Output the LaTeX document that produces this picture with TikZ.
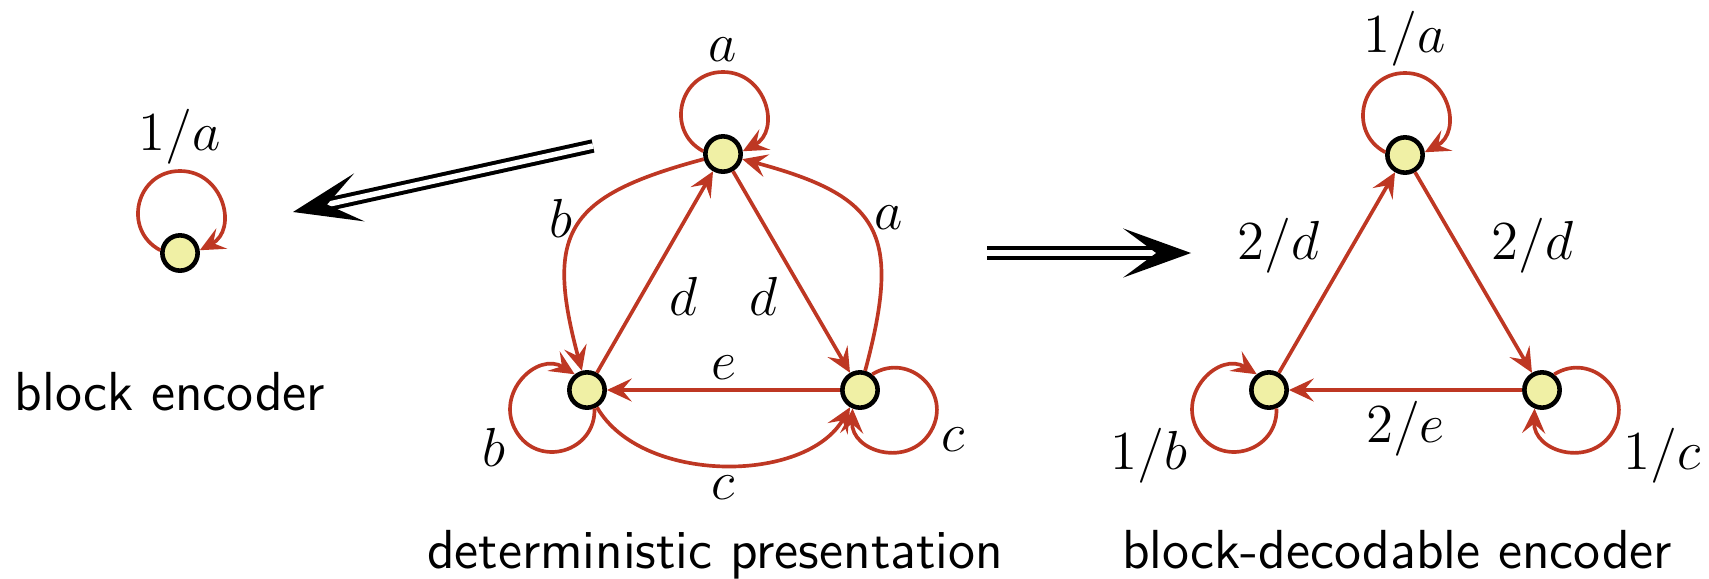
\documentclass[tikz,border=0pt]{standalone}
\usepackage{xcolor}
\definecolor{edgeRed}{RGB}{190, 55, 35}
\definecolor{vertYellow}{RGB}{240, 240, 165}
\usepackage{tikz}
\usetikzlibrary{arrows.meta}

\begin{document}
\begin{tikzpicture}[
    x=0.2182pt, y=0.2182pt,
    every node/.style={font=\large},
    vert/.style={
        circle, draw=black, line width=1pt, fill=vertYellow,
        minimum size=7.7pt, inner sep=0pt
    },
    arr/.style={-{Stealth[length=5.4pt, width=5pt, inset=2.1pt]}, edgeRed, line width=0.8pt},
    half/.style={looseness=1.37},
    lbl/.style={inner sep=2pt, text=black},
    dbl/.style={
        double=white, double distance=1.2pt, line width=0.87pt,
        -{Stealth[length=14.8pt, width=10.7pt, inset=7.2pt]}
    },
    caption/.style={font=\large\sffamily, anchor=base}
]
\useasboundingbox (0,0) rectangle (1709,-578);

%% ---- Block encoder ----
\node[vert] (enc) at (180,-253) {};
\path (enc) ++(90:82) coordinate (encTop);
\draw[arr] (enc.172) to[out=152, in=180, half] node[lbl, pos=1, above, inner sep=1pt] {$1/a$} (encTop)
    to[out=0, in=28, half] (enc.8);
\node[caption] (encCap) at (170,-410) {block encoder};

%% ---- Deterministic presentation ----
\node[vert] (mT) at (723,-154) {};
\node[vert] (mL) at (587,-390) {};
\node[vert] (mR) at (860,-390) {};
\path (mT) ++(90:82) coordinate (mTtop);
\path (mL) ++(210:82) coordinate (mLtop);
\path (mR) ++(330:82) coordinate (mRtop);

% self loops
\draw[arr] (mT.172) to[out=152, in=180, half] node[lbl, pos=1, above] {$a$} (mTtop)
    to[out=0, in=28, half] (mT.8);
\draw[arr] (mL.292) to[out=272, in=300, half] (mLtop)
    to[out=120, in=148, half] node[lbl, pos=0.08, below left, inner sep=1pt] {$b$} (mL.128);
\draw[arr] (mR.52) to[out=32, in=60, half] node[lbl, pos=0.92, below right, inner sep=1pt] {$c$} (mRtop)
    to[out=240, in=268, half] (mR.248);

% edges
\draw[arr] (mL) -- node[lbl, pos=0.53, below right] {$d$} (mT);
\draw[arr] (mT) -- node[lbl, pos=0.47, below left] {$d$} (mR);
\draw[arr] (mR) -- node[lbl, above] {$e$} (mL);
\draw[arr] (mT) to[out=195, in=105, looseness=1.5] node[lbl, pos=0.45, left] {$b$} (mL);
\draw[arr] (mR) to[out=75, in=-15, looseness=1.5] node[lbl, pos=0.55, right] {$a$} (mT);
\draw[arr] (mL) to[out=-60, in=-120, looseness=0.9] node[lbl, below] {$c$} (mR);
\node[caption] (detCap) at (715,-568) {deterministic presentation};

%% ---- Block-decodable encoder ----
\node[vert] (rT) at (1405,-155) {};
\node[vert] (rL) at (1269,-390) {};
\node[vert] (rR) at (1542,-390) {};
\path (rT) ++(90:82) coordinate (rTtop);
\path (rL) ++(210:82) coordinate (rLtop);
\path (rR) ++(330:82) coordinate (rRtop);

% self loops
\draw[arr] (rT.172) to[out=152, in=180, half] node[lbl, pos=1, above, inner sep=1pt] {$1/a$} (rTtop)
    to[out=0, in=28, half] (rT.8);
\draw[arr] (rL.292) to[out=272, in=300, half] (rLtop)
    to[out=120, in=148, half] node[lbl, pos=0.08, below left, inner sep=1pt] {$1/b$} (rL.128);
\draw[arr] (rR.52) to[out=32, in=60, half] node[lbl, pos=0.92, below right, inner sep=1pt] {$1/c$} (rRtop)
    to[out=240, in=268, half] (rR.248);

% edges
\draw[arr] (rL) -- node[lbl, pos=0.44, above left] {$2/d$} (rT);
\draw[arr] (rT) -- node[lbl, pos=0.56, above right] {$2/d$} (rR);
\draw[arr] (rR) -- node[lbl, below] {$2/e$} (rL);
\node[caption] (bdCap) at (1397,-568) {block-decodable encoder};

%% ---- Double arrows between the pictures ----
\coordinate (toEncFrom) at (593,-146);
\coordinate (toEncTo)   at (293,-212);
\draw[dbl] (toEncFrom) -- (toEncTo);
\coordinate (toBdFrom) at (987,-253);
\coordinate (toBdTo)   at (1191,-253);
\draw[dbl] (toBdFrom) -- (toBdTo);

\end{tikzpicture}
\end{document}
